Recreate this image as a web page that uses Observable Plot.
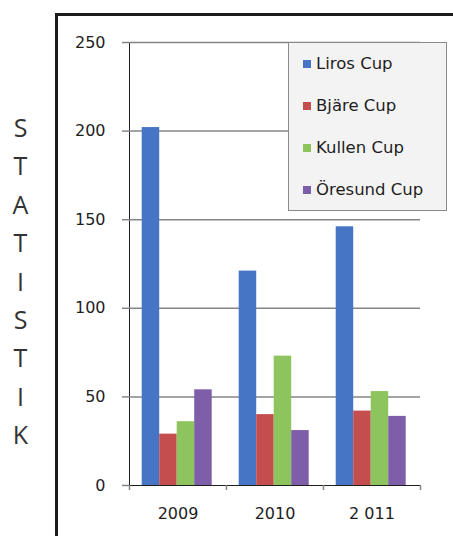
<!DOCTYPE html>
<html><head><meta charset="utf-8">
<script src="https://cdn.jsdelivr.net/npm/d3@7"></script>
<script src="https://cdn.jsdelivr.net/npm/@observablehq/plot@0.6"></script>
<style>
body{margin:0;background:#fff;}
#wrap{position:relative;width:453px;height:536px;overflow:hidden;font-family:"DejaVu Sans",sans-serif;}
#plot{position:absolute;left:0;top:0;}
#frame{position:absolute;left:55px;top:13px;width:600px;height:700px;border-left:3px solid #1c1c1c;border-top:3px solid #1c1c1c;pointer-events:none;}
#side{position:absolute;left:0;top:108px;width:41px;text-align:center;font-family:"Open Sans",sans-serif;font-size:25px;line-height:38.4px;color:#333;}
#legend{position:absolute;left:288px;top:42px;width:157px;height:167px;border:1.5px solid #8a8a8a;background:#f3f3f3;}
.item{position:relative;height:42px;line-height:42px;font-size:16.5px;color:#1e1e1e;padding-left:27px;white-space:nowrap;}
.sw{position:absolute;left:14px;top:17px;width:8px;height:8px;}
#plot g[aria-label^="y-axis"] path,#plot g[aria-label^="y-axis"] line,#plot g[aria-label^="x-axis"] path,#plot g[aria-label^="x-axis"] line{stroke:#858585;stroke-width:1.5px;}
</style>
</head><body>
<div id="wrap">
<div id="plot"></div>
<div id="frame"></div>
<div id="side"></div>
<div id="legend"></div>
</div>
<script>
const years = ["2009", "2010", "2011"];
const yearLabels = ["2009", "2010", "2 011"];
const series = ["Liros Cup", "Bjäre Cup", "Kullen Cup", "Öresund Cup"];
const liros = [202, 121, 146];
const bjare = [29, 40, 42];
const kullen = [36, 73, 53];
const oresund = [54, 31, 39];
const colors = ["#4575C4", "#C44E4E", "#8DC45E", "#7E5EA8"];
const yTicks = [0, 50, 100, 150, 200, 250];
const sideTitle = "STATISTIK";

const values = [liros, bjare, kullen, oresund];
const rows = [];
series.forEach((s, si) => years.forEach((y, yi) => rows.push({series: s, si, year: y, yi, value: values[si][yi]})));

const PAD = 0.131, W = 0.1804;

const chart = Plot.plot({
  width: 453, height: 536,
  marginTop: 42, marginBottom: 51, marginLeft: 129, marginRight: 33,
  style: {background: "transparent", color: "#1e1e1e", fontSize: "16px", fontFamily: "DejaVu Sans"},
  x: {domain: [0, years.length], ticks: d3.range(years.length + 1), tickFormat: () => "", tickSize: 5, label: null, line: true},
  y: {domain: [0, 250], ticks: yTicks, tickSize: 7, tickPadding: 17, label: null, line: true},
  color: {domain: series, range: colors},
  marks: [
    Plot.ruleY(yTicks.slice(1), {stroke: "#858585", strokeWidth: 1.5}),
    Plot.rectY(rows, {x1: d => d.yi + PAD + d.si * W, x2: d => d.yi + PAD + (d.si + 1) * W, y: "value", fill: "series"}),
    Plot.text(yearLabels, {x: (d, i) => i + 0.5, y: () => 0, dy: 28, text: d => d, fontSize: 16, fill: "#1e1e1e"})
  ]
});
document.getElementById("plot").appendChild(chart);

document.getElementById("side").innerHTML = sideTitle.split("").map(c => `<div>${c}</div>`).join("");
document.getElementById("legend").innerHTML = series.map((s, i) =>
  `<div class="item"><span class="sw" style="background:${colors[i]}"></span>${s}</div>`).join("");
</script>
</body></html>
